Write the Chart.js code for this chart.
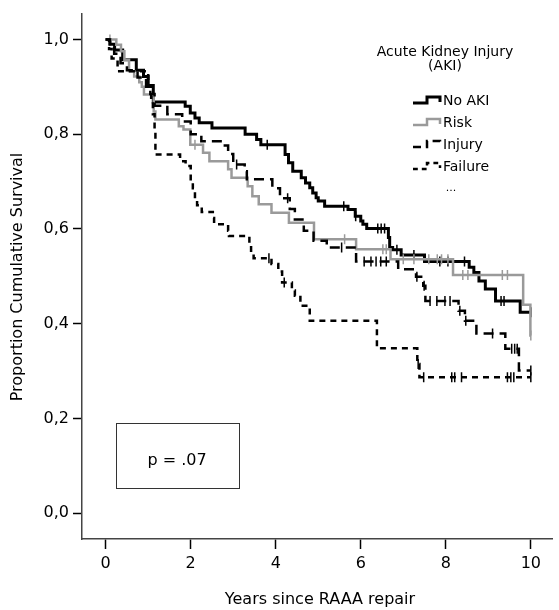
<!DOCTYPE html>
<html>
<head>
<meta charset="utf-8">
<script src="https://cdn.jsdelivr.net/npm/chart.js@4.4.1/dist/chart.umd.min.js"></script>
<style>
  html, body { margin: 0; padding: 0; background: #fff; }
  #wrap { width: 559px; height: 610px; }
</style>
</head>
<body>
<div id="wrap"><canvas id="km" width="559" height="610"></canvas></div>
<script>
// Axis ticks
const xTicks = [0, 2, 4, 6, 8, 10];
const yTicks = [0, 0.2, 0.4, 0.6, 0.8, 1.0];

// Kaplan-Meier steps: time of each drop and survival after it
const noAkiTimes = [0, 0.1, 0.21, 0.4, 0.72, 0.89, 1.0, 1.12, 1.87, 1.99, 2.1, 2.2, 2.5, 3.28, 3.55, 3.65, 4.22, 4.3, 4.4, 4.6, 4.7, 4.8, 4.87, 4.95, 5.0, 5.15, 5.7, 5.87, 6.0, 6.05, 6.14, 6.65, 6.68, 6.75, 6.95, 7.5, 8.55, 8.66, 8.78, 8.93, 9.17, 9.75, 10.0];
const noAkiSurv  = [1, 0.99, 0.978, 0.957, 0.935, 0.922, 0.903, 0.868, 0.859, 0.845, 0.834, 0.824, 0.813, 0.80, 0.789, 0.778, 0.757, 0.74, 0.722, 0.708, 0.697, 0.687, 0.676, 0.666, 0.659, 0.648, 0.641, 0.627, 0.617, 0.61, 0.601, 0.582, 0.561, 0.556, 0.545, 0.531, 0.519, 0.508, 0.49, 0.473, 0.448, 0.424, 0.424];
const noAkiCensor = [3.8, 5.6, 5.88, 6.4, 6.48, 6.56, 6.85, 7.25, 7.86, 8.05, 8.44, 9.3, 9.37, 10.0];

const riskTimes = [0, 0.25, 0.36, 0.44, 0.55, 0.67, 0.79, 0.85, 0.9, 1.13, 1.17, 1.72, 1.83, 1.99, 2.29, 2.44, 2.88, 2.96, 3.34, 3.45, 3.6, 3.9, 4.31, 4.9, 5.89, 6.7, 8.17, 9.82, 9.99, 10.0];
const riskSurv  = [1, 0.989, 0.975, 0.957, 0.933, 0.922, 0.91, 0.90, 0.884, 0.848, 0.831, 0.817, 0.81, 0.778, 0.761, 0.743, 0.726, 0.708, 0.69, 0.669, 0.652, 0.634, 0.613, 0.578, 0.557, 0.536, 0.503, 0.44, 0.375, 0.375];
const riskCensor = [0.1, 2.1, 5.62, 6.52, 6.6, 7.0, 7.25, 7.6, 7.8, 7.9, 8.05, 8.4, 8.52, 9.33, 9.45, 10.0];

const injuryTimes = [0, 0.1, 0.2, 0.35, 0.5, 0.75, 0.95, 1.05, 1.15, 1.45, 1.8, 2.0, 2.25, 2.75, 2.88, 3.0, 3.27, 3.32, 3.92, 4.1, 4.33, 4.45, 4.66, 4.89, 5.2, 5.89, 6.88, 7.3, 7.47, 7.52, 8.3, 8.45, 8.72, 9.4, 9.72, 10.0];
const injurySurv  = [1, 0.985, 0.97, 0.95, 0.935, 0.92, 0.9, 0.885, 0.86, 0.842, 0.827, 0.80, 0.785, 0.776, 0.758, 0.736, 0.722, 0.705, 0.686, 0.665, 0.642, 0.62, 0.596, 0.575, 0.561, 0.531, 0.515, 0.499, 0.48, 0.448, 0.427, 0.406, 0.379, 0.347, 0.301, 0.301];
const injuryCensor = [3.08, 4.28, 5.55, 6.08, 6.24, 6.36, 6.47, 6.6, 7.32, 7.49, 7.63, 7.79, 7.98, 8.1, 8.33, 8.47, 9.1, 9.55, 9.62, 9.68, 10.0];

const failureTimes = [0, 0.08, 0.14, 0.28, 1.0, 1.07, 1.11, 1.15, 1.17, 1.75, 1.88, 2.0, 2.05, 2.1, 2.15, 2.26, 2.52, 2.55, 2.88, 2.9, 3.38, 3.42, 3.48, 3.9, 4.06, 4.15, 4.38, 4.45, 4.58, 4.8, 6.38, 7.33, 7.38, 10.0];
const failureSurv  = [1, 0.98, 0.96, 0.933, 0.9, 0.87, 0.842, 0.81, 0.757, 0.743, 0.733, 0.70, 0.686, 0.663, 0.65, 0.636, 0.623, 0.61, 0.596, 0.585, 0.564, 0.55, 0.538, 0.526, 0.51, 0.487, 0.47, 0.459, 0.438, 0.406, 0.348, 0.315, 0.287, 0.287];
const failureCensor = [3.84, 4.2, 7.35, 7.48, 8.14, 8.21, 8.37, 9.45, 9.53, 9.6, 10.0];

const groupNames = ['No AKI', 'Risk', 'Injury', 'Failure'];
const pText = 'p = .07';

const FONT = '"DejaVu Sans", Verdana, sans-serif';

// line look per group
const styles = [
  { color: '#000', width: 3, dash: [] },
  { color: '#9a9a9a', width: 2.5, dash: [] },
  { color: '#000', width: 2.5, dash: [10, 6] },
  { color: '#000', width: 2.5, dash: [6, 5] }
];

function stepPoints(times, surv) {
  return times.map((t, i) => ({ x: t, y: surv[i] }));
}

// survival value of the step curve at time t
function survAt(times, surv, t) {
  let s = surv[0];
  for (let i = 0; i < times.length; i++) {
    if (times[i] <= t) s = surv[i];
  }
  return s;
}

function censorPoints(times, surv, cens) {
  return cens.map(t => ({ x: t, y: survAt(times, surv, t) }));
}

const groups = [
  [noAkiTimes, noAkiSurv, noAkiCensor],
  [riskTimes, riskSurv, riskCensor],
  [injuryTimes, injurySurv, injuryCensor],
  [failureTimes, failureSurv, failureCensor]
];

const datasets = [];
groups.forEach((g, i) => {
  const st = styles[i];
  datasets.push({
    type: 'line',
    label: groupNames[i],
    data: stepPoints(g[0], g[1]),
    stepped: 'before',
    borderColor: st.color,
    borderWidth: st.width,
    borderDash: st.dash,
    pointRadius: 0,
    fill: false,
    order: 4 - i
  });
  datasets.push({
    type: 'scatter',
    label: groupNames[i] + ' censored',
    data: censorPoints(g[0], g[1], g[2]),
    pointStyle: 'line',
    rotation: 90,
    pointRadius: 5,
    borderColor: st.color,
    borderWidth: 1.5,
    order: 4 - i
  });
});

// legend, axis titles and p-value box
const annotations = {
  id: 'annotations',
  afterDraw(chart) {
    const ctx = chart.ctx;
    ctx.save();
    ctx.fillStyle = '#000';
    ctx.textAlign = 'center';
    ctx.textBaseline = 'middle';

    // axis titles
    ctx.font = '16px ' + FONT;
    ctx.fillText('Years since RAAA repair', 320, 600);
    ctx.save();
    ctx.translate(18, 277);
    ctx.rotate(-Math.PI / 2);
    ctx.fillText('Proportion Cumulative Survival', 0, 0);
    ctx.restore();

    // p-value box
    ctx.strokeStyle = '#333';
    ctx.lineWidth = 1;
    ctx.strokeRect(116.5, 423.5, 123, 65);
    ctx.font = '16px ' + FONT;
    ctx.fillText(pText, 177, 461);

    // legend
    ctx.font = '14px ' + FONT;
    ctx.fillText('Acute Kidney Injury', 445, 52);
    ctx.fillText('(AKI)', 445, 66);
    const rows = [100, 122, 144, 166];
    ctx.textAlign = 'left';
    rows.forEach((y, i) => {
      const st = styles[i];
      ctx.beginPath();
      ctx.setLineDash(st.dash.map(d => d * 0.8));
      ctx.strokeStyle = st.color;
      ctx.lineWidth = st.width;
      ctx.moveTo(413, y + 3);
      ctx.lineTo(427, y + 3);
      ctx.lineTo(427, y - 3);
      ctx.lineTo(440, y - 3);
      ctx.lineTo(440, y + 2);
      ctx.stroke();
      ctx.setLineDash([]);
      ctx.fillStyle = '#000';
      ctx.fillText(groupNames[i], 443, y + 1);
    });
    ctx.textAlign = 'center';
    ctx.font = '11px ' + FONT;
    ctx.fillText('...', 451, 188);
    ctx.restore();
  }
};

new Chart(document.getElementById('km'), {
  data: { datasets: datasets },
  options: {
    responsive: false,
    animation: false,
    devicePixelRatio: 1,
    layout: { padding: { top: 12, right: 0, left: 0, bottom: 0 } },
    plugins: {
      legend: { display: false },
      tooltip: { enabled: false }
    },
    scales: {
      x: {
        type: 'linear',
        min: -0.557,
        max: 10.51,
        afterBuildTicks: s => { s.ticks = xTicks.map(v => ({ value: v })); },
        afterFit: s => { s.height = 71; },
        ticks: {
          color: '#000',
          font: { family: FONT, size: 16 },
          padding: 5,
          callback: v => String(v)
        },
        grid: { drawOnChartArea: false, drawTicks: true, tickLength: 10, tickColor: '#000', tickWidth: 1.5 },
        border: { display: true, color: '#444', width: 1.5 }
      },
      y: {
        type: 'linear',
        min: -0.0547,
        max: 1.0547,
        afterBuildTicks: s => { s.ticks = yTicks.map(v => ({ value: v })); },
        afterFit: s => { s.width = 82; },
        ticks: {
          color: '#000',
          font: { family: FONT, size: 16 },
          padding: 4,
          callback: v => v.toFixed(1).replace('.', ',')
        },
        grid: { drawOnChartArea: false, drawTicks: true, tickLength: 9, tickColor: '#000', tickWidth: 1.5 },
        border: { display: true, color: '#444', width: 1.5 }
      }
    }
  },
  plugins: [annotations]
});
</script>
</body>
</html>
